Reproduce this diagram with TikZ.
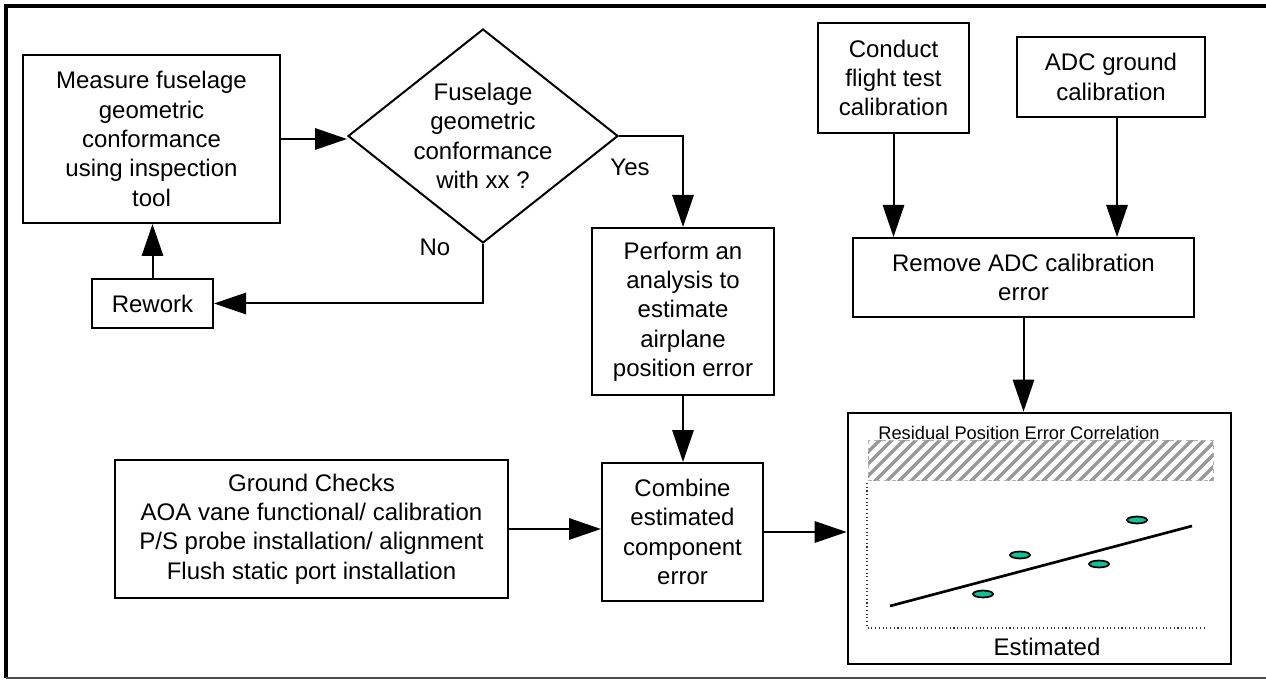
\documentclass[tikz,border=0pt]{standalone}
\usepackage{fontspec}
\setmainfont{Liberation Sans}
\usetikzlibrary{arrows.meta,shapes.geometric,calc}
\definecolor{dotteal}{RGB}{20,190,150}
\tikzset{
  box/.style={draw, line width=1.5pt, align=center, inner sep=0pt, font=\fontsize{18}{22}\selectfont},
  arr/.style={line width=1.5pt, -{Triangle[length=24pt,width=16pt]}},
  lbl/.style={font=\fontsize{18}{22}\selectfont, inner sep=0pt, align=center},
  dotmark/.style={draw=black, line width=1.3pt, fill=dotteal},
}
\begin{document}
\begin{tikzpicture}[x=0.75pt,y=-0.75pt]
\useasboundingbox (0,0) rectangle (1266,680);
% outer frame
\draw[line width=3pt] (4.5,6) -- (1266,6);
\draw[line width=3pt] (6,4.5) -- (6,678);
\draw[line width=1pt, black!70] (6,678) -- (1266,678);

% nodes
\node[box, minimum width=192.75pt, minimum height=126pt] (measure) at (151.5,139)
  {Measure fuselage\\geometric\\conformance\\using inspection\\tool};
\node[box, minimum width=90.75pt, minimum height=36.75pt] (rework) at (152.5,303.5) {Rework};
\node[draw, line width=1.5pt, shape=diamond, minimum width=202.5pt, minimum height=160.5pt, inner sep=0pt] (dec) at (483,136) {};
\node[lbl] (dectext) at (dec.center) {Fuselage\\geometric\\conformance\\with xx ?};
\node[box, minimum width=136.5pt, minimum height=125.25pt] (perform) at (683,311.5)
  {Perform an\\analysis to\\estimate\\airplane\\position error};
\node[box, minimum width=120.75pt, minimum height=103.5pt] (combine) at (682.5,532)
  {Combine\\estimated\\component\\error};
\node[box, minimum width=294.75pt, minimum height=103.5pt] (ground) at (311.5,529)
  {Ground Checks\\AOA vane functional/ calibration\\P/S probe installation/ alignment\\Flush static port installation};
\node[box, minimum width=113.25pt, minimum height=82.5pt] (conduct) at (893.5,78)
  {Conduct\\flight test\\calibration};
\node[box, minimum width=141pt, minimum height=60pt] (adc) at (1111,77)
  {ADC ground\\calibration};
\node[box, minimum width=255.75pt, minimum height=59.25pt] (remove) at (1023.5,277.5)
  {Remove ADC calibration\\error};
\node[draw, line width=2pt, minimum width=287.25pt, minimum height=188.25pt, inner sep=0pt] (chart) at (1039.5,538.5) {};

\node[lbl] (yes) at (630,167) {Yes};
\node[lbl] (no) at (435,247) {No};

% connectors
\draw[arr] (measure.east) -- (measure.east -| dec.west);
\draw[arr] (dec.east) -| (perform.north);
\draw[arr] (dec.south) |- (rework.east);
\draw[arr] (rework.north) -- (rework.north |- measure.south);
\draw[arr] (perform.south) -- (perform.south |- combine.north);
\draw[arr] (ground.east) -- (ground.east -| combine.west);
\draw[arr] (combine.east) -- (combine.east -| chart.west);
\draw[arr] (conduct.south) -- (conduct.south |- remove.north);
\draw[arr] ([xshift=4.5pt]adc.south) -- ([xshift=4.5pt]adc.south |- remove.north);
\draw[arr] (remove.south) -- (remove.south |- chart.north);

% chart contents
\begin{scope}
  \clip (868,440) rectangle (1213,480);
  \foreach \i in {0,...,33} {
    \draw[line width=2.6pt, black!40] ({826+\i*12},482) -- ++(44,-44);
  }
\end{scope}
\draw[black!30, dashed, line width=0.5pt] (868,440) rectangle (1213,480);
\node[font=\fontsize{13.7}{16}\selectfont, inner sep=0pt] (ctitle) at (1019,433) {Residual Position Error Correlation};
\draw[dotted, line width=0.8pt, black!80] (867,483) -- (867,628) -- (1205,628);
\draw[line width=2pt] (890,606) -- (1192,526);
\draw[dotmark] (983,594) ellipse [x radius=7.5pt, y radius=2.6pt];
\draw[dotmark] (1020,555) ellipse [x radius=7.5pt, y radius=2.6pt];
\draw[dotmark] (1099,564) ellipse [x radius=7.5pt, y radius=2.6pt];
\draw[dotmark] (1137,520) ellipse [x radius=7.5pt, y radius=2.6pt];
\node[lbl] (est) at (1047,647) {Estimated};
\end{tikzpicture}
\end{document}
